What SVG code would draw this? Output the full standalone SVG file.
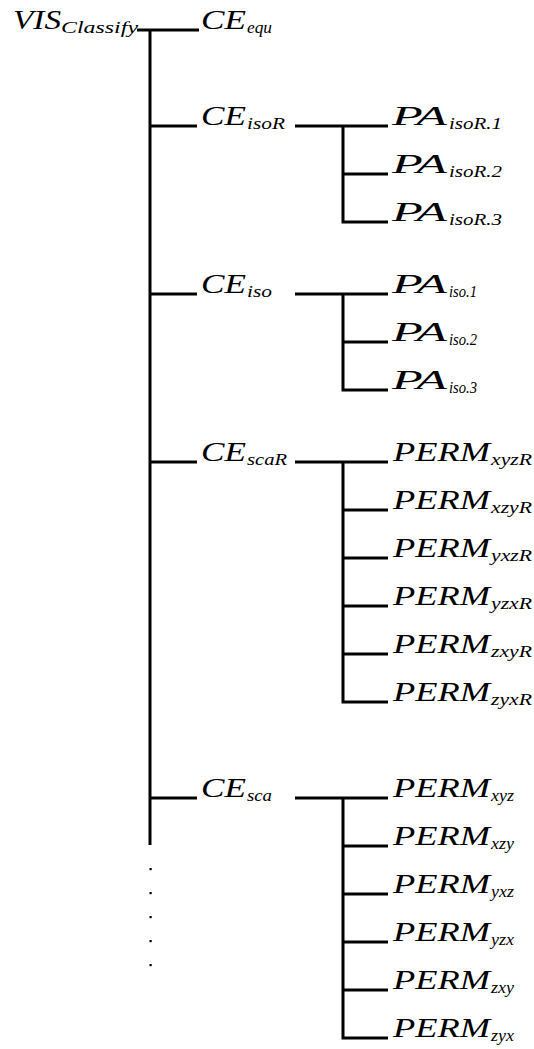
<svg xmlns="http://www.w3.org/2000/svg" width="534" height="1049" viewBox="0 0 534 1049">
<style>
.m{font-family:"Liberation Serif","DejaVu Serif",serif;font-style:italic;font-size:27px;fill:#000}
.s{font-family:"Liberation Serif","DejaVu Serif",serif;font-style:italic;font-size:17px;fill:#000}
.ln{fill:none;stroke:#000;stroke-width:3;stroke-linejoin:miter}
.dot{fill:#000}
</style>
<rect width="534" height="1049" fill="#fff"/>
<g id="connectors" class="ln">
<path d="M137,30 H199 M150,28.5 V845"/>
<path d="M150,126 H197 M150,294 H197 M150,462 H197 M150,798 H197"/>
<path d="M295,126 H388 M343,126 V222 H388 M343,174 H388"/>
<path d="M295,294 H388 M343,294 V390 H388 M343,342 H388"/>
<path d="M295,462 H388 M343,462 V702 H388 M343,510 H388 M343,558 H388 M343,606 H388 M343,654 H388"/>
<path d="M295,798 H388 M343,798 V1038 H388 M343,846 H388 M343,894 H388 M343,942 H388 M343,990 H388"/>
</g>
<g id="ellipsis" class="dot">
<rect x="149.5" y="868" width="2.2" height="2.2"/>
<rect x="149.5" y="892" width="2.2" height="2.2"/>
<rect x="149.5" y="916" width="2.2" height="2.2"/>
<rect x="149.5" y="940" width="2.2" height="2.2"/>
<rect x="149.5" y="964" width="2.2" height="2.2"/>
</g>
<g id="VIS_Classify"><text class="m" x="13" y="29" textLength="48" lengthAdjust="spacingAndGlyphs">VIS</text><text class="s" x="61" y="33" textLength="77" lengthAdjust="spacingAndGlyphs">Classify</text></g>
<g id="CE_equ"><text class="m" x="201" y="29" textLength="45" lengthAdjust="spacingAndGlyphs">CE</text><text class="s" x="247" y="33" textLength="25" lengthAdjust="spacingAndGlyphs">equ</text></g>
<g id="CE_isoR"><text class="m" x="201" y="125" textLength="45" lengthAdjust="spacingAndGlyphs">CE</text><text class="s" x="247" y="129" textLength="38" lengthAdjust="spacingAndGlyphs">isoR</text></g>
<g id="PA_isoR1"><text class="m" x="392" y="125" textLength="55" lengthAdjust="spacingAndGlyphs">PA</text><text class="s" x="449" y="129" textLength="53" lengthAdjust="spacingAndGlyphs">isoR.1</text></g>
<g id="PA_isoR2"><text class="m" x="392" y="173" textLength="55" lengthAdjust="spacingAndGlyphs">PA</text><text class="s" x="449" y="177" textLength="53" lengthAdjust="spacingAndGlyphs">isoR.2</text></g>
<g id="PA_isoR3"><text class="m" x="392" y="221" textLength="55" lengthAdjust="spacingAndGlyphs">PA</text><text class="s" x="449" y="225" textLength="53" lengthAdjust="spacingAndGlyphs">isoR.3</text></g>
<g id="CE_iso"><text class="m" x="201" y="293" textLength="45" lengthAdjust="spacingAndGlyphs">CE</text><text class="s" x="247" y="297" textLength="25" lengthAdjust="spacingAndGlyphs">iso</text></g>
<g id="PA_iso1"><text class="m" x="392" y="293" textLength="55" lengthAdjust="spacingAndGlyphs">PA</text><text class="s" x="449" y="297" textLength="28" lengthAdjust="spacingAndGlyphs">iso.1</text></g>
<g id="PA_iso2"><text class="m" x="392" y="341" textLength="55" lengthAdjust="spacingAndGlyphs">PA</text><text class="s" x="449" y="345" textLength="28" lengthAdjust="spacingAndGlyphs">iso.2</text></g>
<g id="PA_iso3"><text class="m" x="392" y="389" textLength="55" lengthAdjust="spacingAndGlyphs">PA</text><text class="s" x="449" y="393" textLength="28" lengthAdjust="spacingAndGlyphs">iso.3</text></g>
<g id="CE_scaR"><text class="m" x="201" y="461" textLength="45" lengthAdjust="spacingAndGlyphs">CE</text><text class="s" x="247" y="465" textLength="40" lengthAdjust="spacingAndGlyphs">scaR</text></g>
<g id="PERM_xyzR"><text class="m" x="393" y="461" textLength="97" lengthAdjust="spacingAndGlyphs">PERM</text><text class="s" x="491" y="465" textLength="41" lengthAdjust="spacingAndGlyphs">xyzR</text></g>
<g id="PERM_xzyR"><text class="m" x="393" y="509" textLength="97" lengthAdjust="spacingAndGlyphs">PERM</text><text class="s" x="491" y="513" textLength="41" lengthAdjust="spacingAndGlyphs">xzyR</text></g>
<g id="PERM_yxzR"><text class="m" x="393" y="557" textLength="97" lengthAdjust="spacingAndGlyphs">PERM</text><text class="s" x="491" y="561" textLength="41" lengthAdjust="spacingAndGlyphs">yxzR</text></g>
<g id="PERM_yzxR"><text class="m" x="393" y="605" textLength="97" lengthAdjust="spacingAndGlyphs">PERM</text><text class="s" x="491" y="609" textLength="41" lengthAdjust="spacingAndGlyphs">yzxR</text></g>
<g id="PERM_zxyR"><text class="m" x="393" y="653" textLength="97" lengthAdjust="spacingAndGlyphs">PERM</text><text class="s" x="491" y="657" textLength="41" lengthAdjust="spacingAndGlyphs">zxyR</text></g>
<g id="PERM_zyxR"><text class="m" x="393" y="701" textLength="97" lengthAdjust="spacingAndGlyphs">PERM</text><text class="s" x="491" y="705" textLength="41" lengthAdjust="spacingAndGlyphs">zyxR</text></g>
<g id="CE_sca"><text class="m" x="201" y="797" textLength="45" lengthAdjust="spacingAndGlyphs">CE</text><text class="s" x="247" y="801" textLength="25" lengthAdjust="spacingAndGlyphs">sca</text></g>
<g id="PERM_xyz"><text class="m" x="393" y="797" textLength="97" lengthAdjust="spacingAndGlyphs">PERM</text><text class="s" x="491" y="801" textLength="23" lengthAdjust="spacingAndGlyphs">xyz</text></g>
<g id="PERM_xzy"><text class="m" x="393" y="845" textLength="97" lengthAdjust="spacingAndGlyphs">PERM</text><text class="s" x="491" y="849" textLength="23" lengthAdjust="spacingAndGlyphs">xzy</text></g>
<g id="PERM_yxz"><text class="m" x="393" y="893" textLength="97" lengthAdjust="spacingAndGlyphs">PERM</text><text class="s" x="491" y="897" textLength="23" lengthAdjust="spacingAndGlyphs">yxz</text></g>
<g id="PERM_yzx"><text class="m" x="393" y="941" textLength="97" lengthAdjust="spacingAndGlyphs">PERM</text><text class="s" x="491" y="945" textLength="23" lengthAdjust="spacingAndGlyphs">yzx</text></g>
<g id="PERM_zxy"><text class="m" x="393" y="989" textLength="97" lengthAdjust="spacingAndGlyphs">PERM</text><text class="s" x="491" y="993" textLength="23" lengthAdjust="spacingAndGlyphs">zxy</text></g>
<g id="PERM_zyx"><text class="m" x="393" y="1037" textLength="97" lengthAdjust="spacingAndGlyphs">PERM</text><text class="s" x="491" y="1041" textLength="23" lengthAdjust="spacingAndGlyphs">zyx</text></g>
</svg>
